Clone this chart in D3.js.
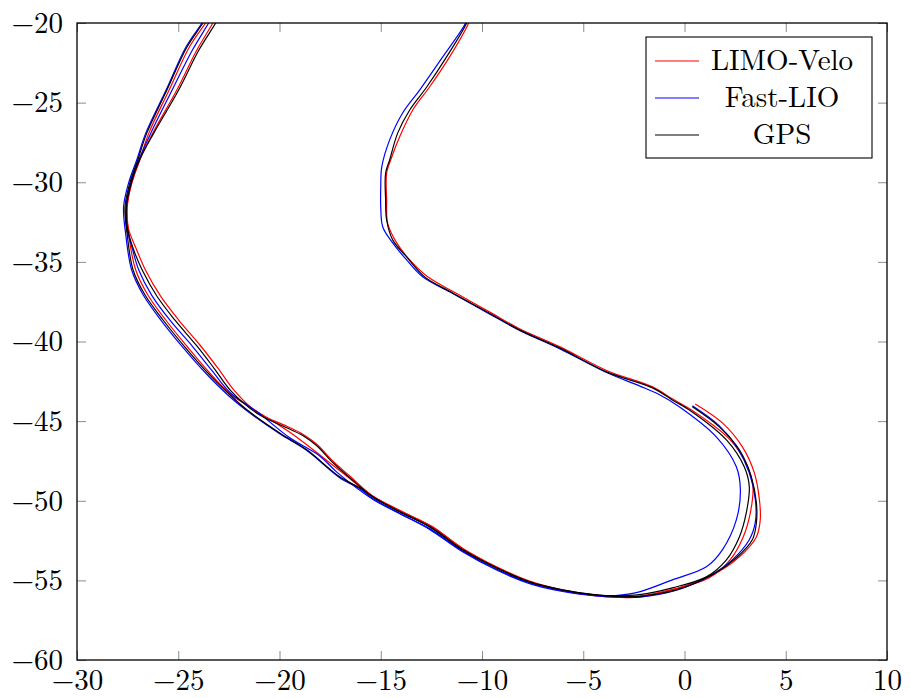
<!DOCTYPE html>
<html>
<head>
<meta charset="utf-8">
<script src="https://cdn.jsdelivr.net/npm/d3@7"></script>
<style>
  body { margin: 0; background: #fff; }
  svg { display: block; }
  text { font-family: "Latin Modern Roman", "CMU Serif", "Liberation Serif", serif; }
</style>
</head>
<body>
<svg></svg>
<script>
// trajectory data, two passes per source (x, y in metres)
const limoLap1 = [[0.53,-43.92],[1.87,-45.11],[2.86,-46.62],[3.45,-48.25],[3.7,-49.94],[3.74,-51.2],[3.55,-52.27],[2.71,-53.52],[1.57,-54.53],[-0.26,-55.47],[-2.23,-56.05],[-3.4,-56.05],[-4.35,-55.98],[-6.02,-55.65],[-7.65,-55.1],[-9.28,-54.2],[-10.96,-53.02],[-12.44,-51.64],[-14.07,-50.62],[-15.4,-49.7],[-16.53,-48.45],[-17.37,-47.5],[-18.16,-46.45],[-18.85,-45.82],[-19.64,-45.32],[-21.12,-44.44],[-22.25,-43.05],[-23.05,-41.66],[-23.93,-40.22],[-24.98,-38.65],[-25.88,-37.14],[-26.62,-35.51],[-27.05,-34.25],[-27.48,-32.81],[-27.53,-31.55],[-27.29,-30.04],[-26.9,-28.6],[-26.25,-26.9],[-25.07,-24.21],[-24.08,-21.7],[-23.29,-20],[-23.0,-19.3]];
const limoLap2 = [[-10.55,-19.5],[-10.66,-20],[-11.6,-22.13],[-12.59,-24.02],[-13.42,-25.46],[-14.07,-27.16],[-14.51,-28.6],[-14.71,-29.42],[-14.71,-31.11],[-14.66,-32.56],[-14.21,-33.81],[-13.57,-34.88],[-12.68,-35.94],[-11.45,-36.85],[-9.48,-38.25],[-8.15,-39.2],[-6.17,-40.32],[-3.85,-41.82],[-1.58,-42.85],[-0.6,-43.6],[0.35,-44.3],[2.2,-46.1],[3.1,-47.8],[3.38,-49.13],[3.25,-50.76],[2.9,-52.27],[2.25,-53.71],[1.2,-54.85],[-0.55,-55.55],[-2.23,-55.98],[-3.4,-56.0],[-4.35,-55.93],[-6.02,-55.6],[-7.65,-55.05],[-9.28,-54.15],[-10.96,-52.98],[-12.5,-51.6],[-14.07,-50.6],[-15.4,-49.7],[-17.03,-48.1],[-19.49,-45.7],[-21.61,-44.0],[-22.44,-43.3],[-23.5,-41.9],[-24.55,-40.33],[-25.62,-38.65],[-26.5,-37.08],[-27.1,-35.51],[-27.42,-33.5],[-27.52,-31.55],[-27.3,-30.04],[-26.9,-28.6],[-26.45,-26.9],[-25.45,-24.21],[-24.45,-21.51],[-23.65,-20],[-23.3,-19.3]];
const fastLap1 = [[0.39,-44.04],[1.72,-45.3],[2.61,-46.68],[3.2,-48.25],[3.5,-49.94],[3.5,-51.33],[3.2,-52.45],[2.36,-53.71],[1.23,-54.72],[-0.4,-55.62],[-2.23,-56.05],[-3.4,-56.05],[-4.35,-55.98],[-6.02,-55.7],[-7.65,-55.2],[-9.28,-54.35],[-10.96,-53.2],[-12.59,-51.8],[-14.07,-50.8],[-15.4,-49.9],[-17.17,-48.2],[-18.0,-47.2],[-19.49,-46.05],[-21.12,-44.4],[-22.45,-43.2],[-23.35,-41.8],[-24.3,-40.3],[-25.4,-38.68],[-26.3,-37.12],[-26.95,-35.51],[-27.25,-34.25],[-27.55,-32.81],[-27.58,-31.55],[-27.35,-30.04],[-26.95,-28.6],[-26.35,-26.9],[-25.3,-24.21],[-24.3,-21.7],[-23.5,-20],[-23.2,-19.3]];
const fastLap2 = [[-10.7,-19.5],[-10.81,-20],[-11.94,-22.13],[-13.08,-24.21],[-13.92,-25.65],[-14.56,-27.34],[-14.95,-29.04],[-15.0,-30.3],[-15.0,-31.55],[-14.9,-32.81],[-14.41,-33.81],[-13.72,-34.88],[-12.93,-35.94],[-11.45,-36.98],[-9.48,-38.38],[-8.15,-39.3],[-6.17,-40.45],[-3.85,-41.95],[-2.2,-42.8],[-1.3,-43.3],[-0.26,-44.1],[1.57,-45.99],[2.56,-47.87],[2.76,-49.32],[2.56,-51.2],[1.87,-53.08],[1.08,-54.15],[-0.6,-54.97],[-2.23,-55.72],[-3.4,-55.95],[-4.35,-55.95],[-6.02,-55.65],[-7.65,-55.15],[-9.28,-54.3],[-10.96,-53.15],[-12.59,-51.75],[-14.07,-50.8],[-15.4,-49.85],[-16.04,-49.25],[-17.03,-48.55],[-18.65,-46.85],[-19.99,-45.8],[-21.61,-44.35],[-22.5,-43.42],[-23.65,-41.98],[-24.75,-40.4],[-25.83,-38.7],[-26.72,-37.1],[-27.3,-35.51],[-27.6,-33.2],[-27.7,-31.55],[-27.45,-30.04],[-27.05,-28.6],[-26.6,-26.9],[-25.6,-24.21],[-24.62,-21.51],[-23.83,-20],[-23.5,-19.3]];
const gpsLap1 = [[0.39,-44.1],[1.72,-45.36],[2.71,-46.8],[3.3,-48.5],[3.55,-50.13],[3.55,-51.39],[3.35,-52.45],[2.56,-53.58],[1.38,-54.65],[-0.4,-55.6],[-2.23,-56.0],[-3.4,-56.0],[-4.35,-55.93],[-6.02,-55.62],[-7.65,-55.1],[-9.28,-54.22],[-10.96,-53.08],[-12.5,-51.68],[-14.07,-50.68],[-15.4,-49.75],[-16.53,-48.55],[-17.37,-47.6],[-18.16,-46.55],[-18.85,-45.9],[-19.64,-45.42],[-21.12,-44.5],[-22.4,-43.1],[-23.22,-41.7],[-24.1,-40.25],[-25.15,-38.68],[-26.05,-37.16],[-26.78,-35.51],[-27.2,-34.25],[-27.52,-32.81],[-27.56,-31.55],[-27.32,-30.04],[-26.92,-28.6],[-26.2,-26.9],[-24.98,-24.21],[-23.98,-21.7],[-23.15,-20],[-22.85,-19.3]];
const gpsLap2 = [[-10.65,-19.5],[-10.76,-20],[-11.75,-22.13],[-12.73,-24.02],[-13.57,-25.46],[-14.16,-26.9],[-14.56,-28.6],[-14.76,-29.42],[-14.76,-31.11],[-14.71,-32.37],[-14.41,-33.62],[-13.72,-34.69],[-12.83,-35.94],[-11.45,-36.95],[-9.48,-38.33],[-8.15,-39.27],[-6.17,-40.4],[-3.85,-41.91],[-1.58,-42.91],[-0.6,-43.67],[0.24,-44.3],[2.07,-46.18],[2.95,-47.87],[3.2,-49.13],[3.05,-50.76],[2.71,-52.27],[2.07,-53.71],[1.08,-54.78],[-0.6,-55.47],[-2.23,-55.9],[-3.4,-55.97],[-4.35,-55.91],[-6.02,-55.59],[-7.65,-55.09],[-9.28,-54.21],[-10.96,-53.08],[-12.59,-51.64],[-14.07,-50.7],[-15.4,-49.75],[-16.04,-49.19],[-17.03,-48.5],[-18.65,-46.8],[-19.99,-45.74],[-21.61,-44.29],[-22.44,-43.36],[-23.58,-41.92],[-24.67,-40.35],[-25.75,-38.65],[-26.64,-37.08],[-27.23,-35.51],[-27.53,-33.18],[-27.63,-31.55],[-27.39,-30.04],[-27.0,-28.6],[-26.55,-26.9],[-25.56,-24.21],[-24.57,-21.51],[-23.78,-20],[-23.45,-19.3]];

const seriesNames = ['LIMO-Velo', 'Fast-LIO', 'GPS'];
const seriesColors = ['#ff0000', '#0000ff', '#000000'];
const seriesLaps = [[limoLap1, limoLap2], [fastLap1, fastLap2], [gpsLap1, gpsLap2]];

const xTicks = [-30, -25, -20, -15, -10, -5, 0, 5, 10];
const yTicks = [-60, -55, -50, -45, -40, -35, -30, -25, -20];

const width = 910;
const height = 698;
const plotLeft = 77, plotRight = 887, plotTop = 23, plotBottom = 660;

const svg = d3.select('svg').attr('width', width).attr('height', height);

const x = d3.scaleLinear().domain([-30, 10]).range([plotLeft, plotRight]);
const y = d3.scaleLinear().domain([-60, -20]).range([plotBottom, plotTop]);

const fmt = (d) => (d < 0 ? '\u2212' + Math.abs(d) : '' + d);

svg.append('clipPath').attr('id', 'plot-clip')
  .append('rect')
  .attr('x', plotLeft).attr('y', plotTop)
  .attr('width', plotRight - plotLeft).attr('height', plotBottom - plotTop);

// axes, ticks pointing inward on all four sides
function styleAxis(g) {
  g.select('.domain').remove();
  g.selectAll('.tick line').attr('stroke', '#8c8c8c').attr('stroke-width', 1);
  g.selectAll('text').attr('font-size', 29).attr('fill', '#000');
}

svg.append('g')
  .attr('transform', 'translate(0,' + plotBottom + ')')
  .call(d3.axisBottom(x).tickValues(xTicks).tickFormat(fmt).tickSize(-9).tickPadding(9))
  .call(styleAxis);
svg.append('g')
  .attr('transform', 'translate(0,' + plotTop + ')')
  .call(d3.axisTop(x).tickValues(xTicks).tickFormat('').tickSize(-9))
  .call(styleAxis);
svg.append('g')
  .attr('transform', 'translate(' + plotLeft + ',0)')
  .call(d3.axisLeft(y).tickValues(yTicks).tickFormat(fmt).tickSize(-9).tickPadding(14))
  .call(styleAxis);
svg.append('g')
  .attr('transform', 'translate(' + plotRight + ',0)')
  .call(d3.axisRight(y).tickValues(yTicks).tickFormat('').tickSize(-9))
  .call(styleAxis);

const line = d3.line()
  .x((d) => x(d[0]))
  .y((d) => y(d[1]))
  .curve(d3.curveCatmullRom.alpha(0.5));

const plot = svg.append('g').attr('clip-path', 'url(#plot-clip)');

seriesLaps.forEach((laps, i) => {
  plot.selectAll(null)
    .data(laps)
    .enter()
    .append('path')
    .attr('d', line)
    .attr('fill', 'none')
    .attr('stroke', seriesColors[i])
    .attr('stroke-width', 1.2);
});

// frame
svg.append('rect')
  .attr('x', plotLeft).attr('y', plotTop)
  .attr('width', plotRight - plotLeft).attr('height', plotBottom - plotTop)
  .attr('fill', 'none')
  .attr('stroke', '#000')
  .attr('stroke-width', 1.3);

// legend
const legend = svg.append('g').attr('transform', 'translate(646,37)');
legend.append('rect')
  .attr('width', 226).attr('height', 121)
  .attr('fill', '#fff')
  .attr('stroke', '#000')
  .attr('stroke-width', 1.1);

const item = legend.selectAll('g.item')
  .data(seriesNames)
  .enter()
  .append('g')
  .attr('class', 'item')
  .attr('transform', (_, i) => 'translate(0,' + (24 + i * 37) + ')');

item.append('line')
  .attr('x1', 9).attr('x2', 53)
  .attr('stroke', (_, i) => seriesColors[i])
  .attr('stroke-width', 1.2);

item.append('text')
  .attr('x', 136)
  .attr('y', 9)
  .attr('text-anchor', 'middle')
  .attr('font-size', 29)
  .text((d) => d);
</script>
</body>
</html>
